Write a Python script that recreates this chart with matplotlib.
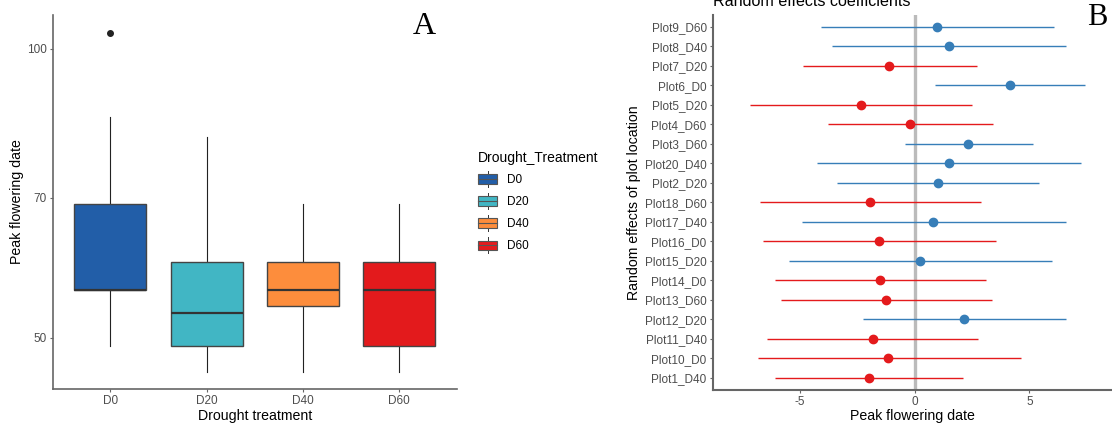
import matplotlib
matplotlib.use("Agg")
import matplotlib.pyplot as plt
from matplotlib.patches import Rectangle
from matplotlib.lines import Line2D
from matplotlib.legend_handler import HandlerBase
from matplotlib.ticker import NullLocator, FixedLocator, FixedFormatter

plt.rcParams['font.family'] = ['Liberation Sans', 'DejaVu Sans']

# ---- Panel A: peak flowering date by drought treatment ----
treatments = ['D0', 'D20', 'D40', 'D60']
box_colors = ['#225EA8', '#41B6C4', '#FD8D3C', '#E31A1C']
whisker_low = [49, 46, 46, 46]
quart1 = [56, 49, 54, 49]
medians = [56, 53, 56, 56]
quart3 = [69, 60, 60, 60]
whisker_high = [85, 81, 69, 69]
outliers = [[104], [], [], []]

# ---- Panel B: random effects of plot location ----
plots = ['Plot9_D60', 'Plot8_D40', 'Plot7_D20', 'Plot6_D0', 'Plot5_D20',
         'Plot4_D60', 'Plot3_D60', 'Plot20_D40', 'Plot2_D20', 'Plot18_D60',
         'Plot17_D40', 'Plot16_D0', 'Plot15_D20', 'Plot14_D0', 'Plot13_D60',
         'Plot12_D20', 'Plot11_D40', 'Plot10_D0', 'Plot1_D40']
estimates = [0.97, 1.48, -1.10, 4.15, -2.35, -0.22, 2.34, 1.48, 1.02, -1.96,
             0.80, -1.57, 0.22, -1.49, -1.26, 2.17, -1.83, -1.16, -2.00]
ci_low = [-4.06, -3.60, -4.88, 0.87, -7.18, -3.77, -0.44, -4.24, -3.40, -6.73,
          -4.91, -6.62, -5.46, -6.07, -5.83, -2.23, -6.41, -6.84, -6.07]
ci_high = [6.05, 6.57, 2.73, 7.43, 2.48, 3.41, 5.17, 7.26, 5.43, 2.90,
           6.57, 3.54, 5.97, 3.10, 3.38, 6.57, 2.78, 4.62, 2.10]

W, H = 1112, 426
fig = plt.figure(figsize=(W / 100, H / 100), dpi=100)

AXIS_GREY = '#666666'
TICK_GREY = '#4D4D4D'


def px_axes(left, top, right, bottom):
    return fig.add_axes([left / W, 1 - bottom / H, (right - left) / W, (bottom - top) / H])


# ---------------- Panel A ----------------
axA = px_axes(52.7, 15, 456.7, 389)
stats = []
for i, t in enumerate(treatments):
    stats.append(dict(label=t, whislo=whisker_low[i], q1=quart1[i], med=medians[i],
                      q3=quart3[i], whishi=whisker_high[i], fliers=outliers[i]))
positions = list(range(len(treatments)))
bp = axA.bxp(stats, positions=positions, widths=0.75, patch_artist=True, showcaps=False,
             boxprops=dict(edgecolor='#444444', linewidth=1.0),
             medianprops=dict(color='#333333', linewidth=1.6),
             whiskerprops=dict(color='#222222', linewidth=0.8),
             flierprops=dict(marker='o', markerfacecolor='#222222', markeredgecolor='#222222',
                             markersize=4))
for patch, c in zip(bp['boxes'], box_colors):
    patch.set_facecolor(c)
for w in bp['whiskers']:
    w.set_zorder(1)

axA.set_yscale('log')
axA.set_ylim(44.2, 108.5)
axA.yaxis.set_major_locator(FixedLocator([50, 70, 100]))
axA.yaxis.set_major_formatter(FixedFormatter(['50', '70', '100']))
axA.yaxis.set_minor_locator(NullLocator())
axA.set_xlim(-0.6, len(treatments) - 0.4)
axA.set_xticks(positions)
axA.set_xticklabels(treatments)
for s in ['top', 'right']:
    axA.spines[s].set_visible(False)
for s in ['left', 'bottom']:
    axA.spines[s].set_color(AXIS_GREY)
    axA.spines[s].set_linewidth(1.2)
axA.tick_params(axis='both', length=2.5, width=0.8, color=AXIS_GREY, labelsize=8.5,
                labelcolor=TICK_GREY, pad=2)
axA.set_xlabel('Drought treatment', fontsize=10.2, labelpad=1)
axA.set_ylabel('Peak flowering date', fontsize=10.2, labelpad=2)
fig.text(424 / W, 1 - 34 / H, 'A', fontsize=23, family='Liberation Serif', ha='center',
         va='baseline')


class BoxKey(HandlerBase):
    def create_artists(self, legend, orig_handle, xdescent, ydescent, width, height,
                       fontsize, trans):
        x0, y0 = -xdescent, -ydescent
        cx = x0 + width / 2
        bh = height * 0.6
        by = y0 + (height - bh) / 2
        whisk_top = Line2D([cx, cx], [by + bh, y0 + height], color='#333333', lw=0.7,
                           transform=trans)
        whisk_bot = Line2D([cx, cx], [y0, by], color='#333333', lw=0.7, transform=trans)
        box = Rectangle((x0, by), width, bh, facecolor=orig_handle.get_facecolor(),
                        edgecolor='#555555', lw=0.8, transform=trans)
        med = Line2D([x0, x0 + width], [by + bh / 2, by + bh / 2], color='#555555', lw=0.8,
                     transform=trans)
        return [whisk_top, whisk_bot, box, med]


handles = [Rectangle((0, 0), 1, 1, facecolor=c) for c in box_colors]
leg = fig.legend(handles, treatments, handler_map={Rectangle: BoxKey()},
                 title='Drought_Treatment', loc='upper left',
                 bbox_to_anchor=(478 / W, 1 - 151 / H), frameon=False, fontsize=8.5,
                 title_fontsize=10, handlelength=1.65, handleheight=1.7, labelspacing=0.52,
                 handletextpad=0.8, borderaxespad=0, borderpad=0)
leg._legend_box.align = 'left'

# ---------------- Panel B ----------------
axB = px_axes(713, 15, 1111, 389.7)
n = len(plots)
ypos = [n - 1 - i for i in range(n)]
axB.axvline(0, color='#BBBBBB', lw=2.4, zorder=1)
for y, est, lo, hi in zip(ypos, estimates, ci_low, ci_high):
    col = '#377EB8' if est > 0 else '#E41A1C'
    axB.plot([lo, hi], [y, y], color=col, lw=1.0, zorder=2, solid_capstyle='butt')
    axB.plot([est], [y], 'o', color=col, markersize=6, zorder=3)
axB.set_ylim(-0.6, n - 0.4)
axB.set_yticks(ypos)
axB.set_yticklabels(plots)
axB.set_xlim(-8.78, 8.55)
axB.set_xticks([-5, 0, 5])
axB.set_xticklabels(['-5', '0', '5'])
for s in ['top', 'right']:
    axB.spines[s].set_visible(False)
for s in ['left', 'bottom']:
    axB.spines[s].set_color(AXIS_GREY)
    axB.spines[s].set_linewidth(1.5)
axB.tick_params(axis='both', length=2.5, width=0.8, color=AXIS_GREY, labelsize=8.5,
                labelcolor=TICK_GREY, pad=2)
axB.set_xlabel('Peak flowering date', fontsize=10.2, labelpad=1)
axB.set_ylabel('Random effects of plot location', fontsize=10.2, labelpad=3)
fig.text(713 / W, 1 - 6.3 / H, 'Random effects coefficients', fontsize=11.6,
         ha='left', va='baseline')
fig.text(1097 / W, 1 - 25 / H, 'B', fontsize=22, family='Liberation Serif', ha='center',
         va='baseline')

fig.savefig('out.png', dpi=100)
